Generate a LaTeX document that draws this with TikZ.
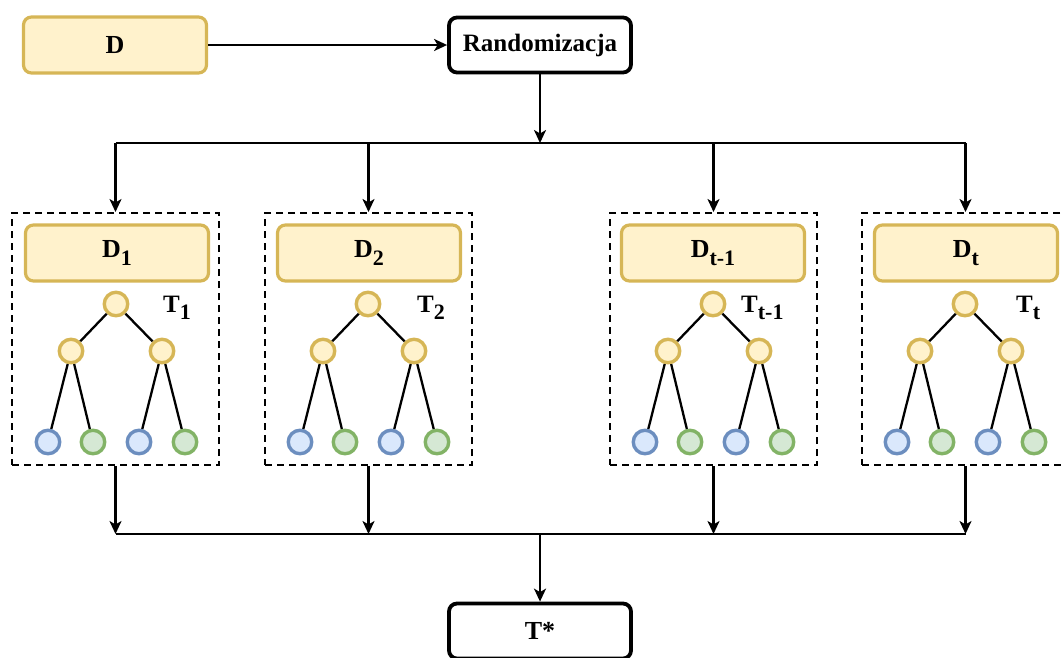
\documentclass[tikz,border=0pt]{standalone}
\usepackage{fontspec}
\setmainfont{Liberation Serif}
\usetikzlibrary{arrows.meta,calc}
\definecolor{yfill}{HTML}{FFF2CC}
\definecolor{ydraw}{HTML}{D6B656}
\definecolor{bfill}{HTML}{DAE8FC}
\definecolor{bdraw}{HTML}{6C8EBF}
\definecolor{gfill}{HTML}{D5E8D4}
\definecolor{gdraw}{HTML}{82B366}
\newcommand\lowsub[1]{\raisebox{-0.3em}{\fontsize{22}{22}\selectfont #1}}
\newcommand\drawtree[2]{%
  \node[ynode] (#1r) at (#2,304) {};
  \node[ynode] (#1a) at ({#2-45},351) {};
  \node[ynode] (#1b) at ({#2+46},351) {};
  \node[bnode] (#1l1) at ({#2-68},442) {};
  \node[gnode] (#1l2) at ({#2-23},442) {};
  \node[bnode] (#1l3) at ({#2+23},442) {};
  \node[gnode] (#1l4) at ({#2+69},442) {};
  \draw[edge] (#1r) -- (#1a);
  \draw[edge] (#1r) -- (#1b);
  \draw[edge] (#1a) -- (#1l1);
  \draw[edge] (#1a) -- (#1l2);
  \draw[edge] (#1b) -- (#1l3);
  \draw[edge] (#1b) -- (#1l4);
}
\begin{document}
\begin{tikzpicture}[x=1pt,y=-1pt,
  every node/.style={font=\fontsize{26}{28}\selectfont\bfseries},
  ybox/.style={draw=ydraw,fill=yfill,line width=3.2pt,rounded corners=8pt,minimum width=183pt,minimum height=56pt,inner sep=0pt},
  kbox/.style={draw=black,fill=white,line width=3.8pt,rounded corners=8pt,minimum width=182pt,minimum height=55pt,inner sep=0pt},
  dbox/.style={draw=black,line width=2pt,dash pattern=on 7pt off 5pt,minimum width=207pt,minimum height=252pt,inner sep=0pt},
  circ/.style={circle,line width=3.4pt,minimum size=23.5pt,inner sep=0pt},
  ynode/.style={circ,draw=ydraw,fill=yfill},
  bnode/.style={circ,draw=bdraw,fill=bfill},
  gnode/.style={circ,draw=gdraw,fill=gfill},
  edge/.style={line width=2.3pt},
  conn/.style={line width=2.2pt},
  arr/.style={conn,-{Stealth[length=13pt,width=12pt,inset=3.5pt]}},
  tlab/.style={anchor=west,font=\fontsize{25}{26}\selectfont\bfseries,inner sep=0pt}
]
\useasboundingbox (0,0) rectangle (1064,657);
\clip (0,0) rectangle (1064,657);

% top row
\node[ybox] (D) at (115,45) {D};
\node[kbox] (rand) at (540,45) {\fontsize{25}{26}\selectfont Randomizacja};
\draw[arr] (D) -- (rand);

% dashed boxes
\node[dbox] (box1) at (115.5,339) {};
\node[dbox] (box2) at (368.5,339) {};
\node[dbox] (box3) at (713.5,339) {};
\node[dbox] (box4) at (965.5,339) {};

% data subsets
\node[ybox] (D1) at (117,253) {D\lowsub{1}};
\node[ybox] (D2) at (369,253) {D\lowsub{2}};
\node[ybox] (D3) at (713,253) {D\lowsub{t-1}};
\node[ybox] (D4) at (966,253) {D\lowsub{t}};

% trees
\drawtree{a}{116}
\drawtree{b}{368}
\drawtree{c}{713}
\drawtree{d}{965}

\node[tlab] (T1) at (163,308) {T\lowsub{1}};
\node[tlab] (T2) at (417,308) {T\lowsub{2}};
\node[tlab] (T3) at (741,308) {T\lowsub{t-1}};
\node[tlab] (T4) at (1016,308) {T\lowsub{t}};

% distribution connectors
\coordinate (tc) at (540,143);
\coordinate (t1) at (box1.north |- tc);
\coordinate (t2) at (box2.north |- tc);
\coordinate (t3) at (box3.north |- tc);
\coordinate (t4) at (box4.north |- tc);
\draw[arr] (rand) -- (tc);
\draw[conn] (t1) -- (t4);
\draw[arr] (t1) -- (box1.north);
\draw[arr] (t2) -- (box2.north);
\draw[arr] (t3) -- (box3.north);
\draw[arr] (t4) -- (box4.north);

% aggregation connectors
\node[kbox] (Tstar) at (540,631) {T*};
\coordinate (bc) at (540,534);
\coordinate (b1) at (box1.south |- bc);
\coordinate (b2) at (box2.south |- bc);
\coordinate (b3) at (box3.south |- bc);
\coordinate (b4) at (box4.south |- bc);
\draw[arr] (box1.south) -- (b1);
\draw[arr] (box2.south) -- (b2);
\draw[arr] (box3.south) -- (b3);
\draw[arr] (box4.south) -- (b4);
\draw[conn] (b1) -- (b4);
\draw[arr] (bc) -- (Tstar);
\end{tikzpicture}
\end{document}
